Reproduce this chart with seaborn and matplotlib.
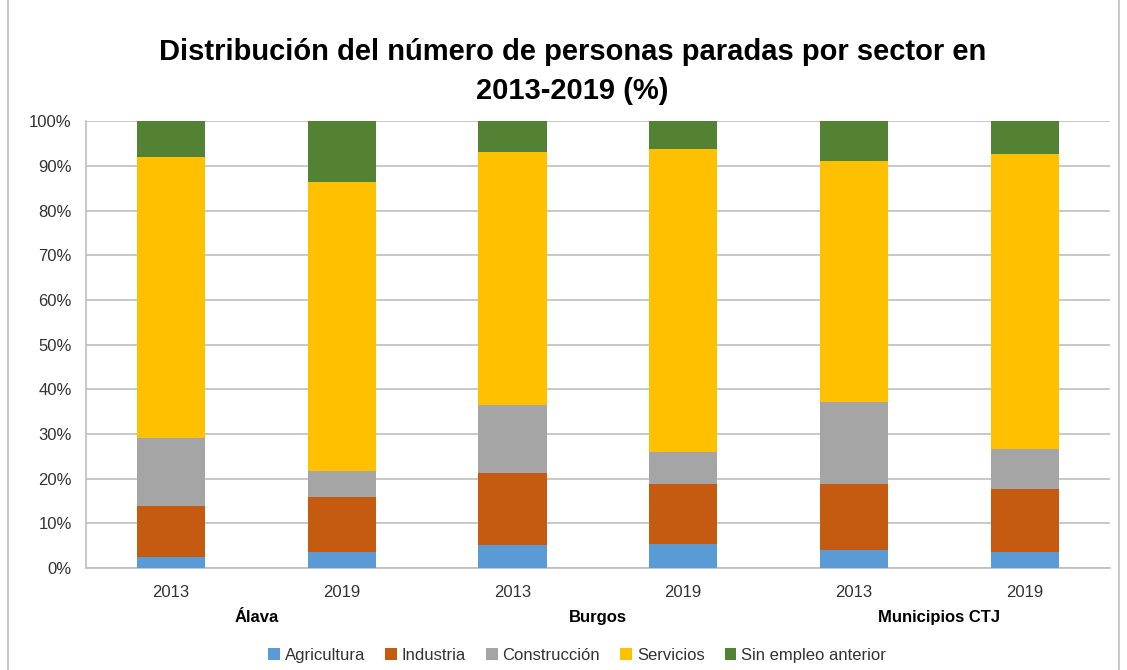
import matplotlib
matplotlib.use("Agg")
import matplotlib.pyplot as plt
from matplotlib.patches import Patch, Rectangle
from matplotlib.ticker import FixedLocator, PercentFormatter
import seaborn as sns
import pandas as pd
import numpy as np

# ---- data ----
groups = ["Álava", "Burgos", "Municipios CTJ"]
years = ["2013", "2019"]
bar_ids = ["Álava 2013", "Álava 2019", "Burgos 2013", "Burgos 2019", "CTJ 2013", "CTJ 2019"]
sectors = ["Agricultura", "Industria", "Construcción", "Servicios", "Sin empleo anterior"]
agricultura = [2.5, 3.7, 5.1, 5.5, 4.0, 3.7]
industria = [11.5, 12.2, 16.2, 13.3, 14.8, 14.1]
construccion = [15.1, 5.8, 15.3, 7.3, 18.4, 8.8]
servicios = [62.8, 64.7, 56.6, 67.8, 53.8, 66.0]
sin_empleo = [8.1, 13.6, 6.8, 6.1, 9.0, 7.4]
colors = ["#5B9BD5", "#C55A11", "#A5A5A5", "#FFC000", "#548235"]

series = [agricultura, industria, construccion, servicios, sin_empleo]
df = pd.DataFrame({s: v for s, v in zip(sectors, series)}, index=bar_ids)
cum = df.cumsum(axis=1)

sns.set_theme(style="white")
plt.rcParams["font.family"] = ["Liberation Sans Narrow", "Liberation Sans", "DejaVu Sans"]

fig = plt.figure(figsize=(11.27, 6.7), dpi=100)
ax = fig.add_axes([0.076, 0.152, 0.909, 0.667])

# draw from top cumulative down so each layer overlays the next
for sector, color in reversed(list(zip(sectors, colors))):
    sns.barplot(x=bar_ids, y=cum[sector].values, color=color, width=0.4,
                ax=ax, saturation=1, edgecolor="none", linewidth=0, zorder=3)

grid_c = "#BFBFBF"
ax.set_ylim(0, 100)
ax.set_xlim(-0.5, len(bar_ids) - 0.5)
ax.yaxis.set_major_locator(FixedLocator(np.arange(0, 101, 10)))
ax.yaxis.set_major_formatter(PercentFormatter(decimals=0))
ax.grid(axis="y", color=grid_c, linewidth=1.2, zorder=0)
ax.set_axisbelow(True)
for side in ["top", "right"]:
    ax.spines[side].set_visible(False)
for side in ["left", "bottom"]:
    ax.spines[side].set_color(grid_c)
    ax.spines[side].set_linewidth(1.2)

ax.set_xticks(range(len(bar_ids)))
ax.set_xticklabels(years * 3)
ax.set_xticks(np.arange(-0.5, len(bar_ids), 1.0), minor=True)
ax.tick_params(axis="x", which="major", length=0, pad=12, labelsize=12, colors="#333333")
ax.tick_params(axis="x", which="minor", length=6, color=grid_c, width=1.2, direction="out")
ax.tick_params(axis="y", length=6, color=grid_c, width=1.2, direction="out",
               labelsize=12, colors="#333333", pad=4)
ax.set_xlabel("")
ax.set_ylabel("")

for i, g in enumerate(groups):
    ax.text(2 * i + 0.5, -0.11, g, transform=ax.get_xaxis_transform(),
            ha="center", va="center", fontsize=12, fontweight="bold", color="black")

fig.text(0.508, 0.893, "Distribución del número de personas paradas por sector en\n2013-2019 (%)",
         ha="center", va="center", fontsize=21, fontweight="bold", linespacing=1.5,
         color="black")

handles = [Patch(facecolor=c, edgecolor="none", label=s) for s, c in zip(sectors, colors)]
fig.legend(handles=handles, loc="center", bbox_to_anchor=(0.512, 0.022), ncol=5,
           frameon=False, fontsize=12, handlelength=0.7, handleheight=0.7,
           handletextpad=0.3, columnspacing=1.2, labelcolor="#333333")

fig.patches.append(Rectangle((0.007, -0.01), 0.986, 1.02, transform=fig.transFigure,
                             fill=False, edgecolor="#BFBFBF", linewidth=1.2))

fig.savefig("out.png", dpi=100)
